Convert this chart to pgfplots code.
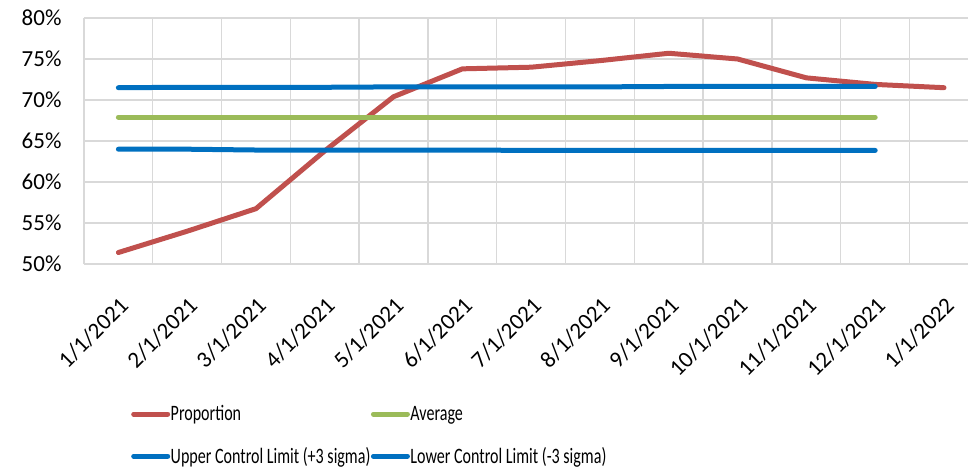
\documentclass[border=0pt]{standalone}
\usepackage{fontspec}
\setmainfont{Carlito}
\usepackage{graphicx}
\usepackage{pgfplots}
\pgfplotsset{compat=1.18}
\definecolor{cred}{HTML}{C0504D}
\definecolor{cgreen}{HTML}{9BBB59}
\definecolor{cblue}{HTML}{0070C0}
\definecolor{cgrid}{HTML}{D9D9D9}
\begin{document}
\begin{tikzpicture}
\begin{axis}[
 at={(0,0)}, anchor=south west,
 scale only axis, width=884bp, height=246bp,
 xmin=-0.5, xmax=12.349, ymin=50, ymax=80,
 axis line style={draw=none},
 xtick={0,...,12},
 xticklabels={1/1/2021,2/1/2021,3/1/2021,4/1/2021,5/1/2021,6/1/2021,7/1/2021,8/1/2021,9/1/2021,10/1/2021,11/1/2021,12/1/2021,1/1/2022},
 minor xtick={-0.5,0.5,...,11.5},
 xminorgrids, ymajorgrids,
 ytick={50,55,...,80},
 yticklabel={\pgfmathprintnumber{\tick}\%},
 /pgf/number format/assume math mode=true,
 grid style={cgrid, line width=1.4bp},
 minor grid style={cgrid, line width=1.4bp},
 major tick length=0pt, minor tick length=0pt,
 xticklabel style={rotate=45, anchor=east, font=\fontsize{23bp}{27bp}\selectfont, yshift=-31bp, xshift=-19bp},
 yticklabel style={font=\fontsize{23bp}{27bp}\selectfont, xshift=-19bp},
 legend columns=2,
 legend cell align=left,
 legend image code/.code={\draw[#1, line cap=round] (0bp,0bp) -- (34bp,0bp);},
 legend style={at={(axis description cs:0,0)}, anchor=north west, xshift=47bp, yshift=-141bp,
   draw=none, fill=none, inner sep=0pt, row sep=24bp, column sep=0pt,
   font=\fontsize{22bp}{26bp}\selectfont, nodes={inner sep=0.5bp}},
]
\addplot[cred, line width=5bp, line join=round, line cap=round] coordinates {
 (0,51.4) (1,54.0) (2,56.75) (3,63.8) (4,70.4) (5,73.8) (6,74.0) (7,74.8) (8,75.7) (9,75.0) (10,72.7) (11,71.9) (12,71.5)};
\addlegendentry{\scalebox{0.73}[1]{Proportion}}
\addplot[cgreen, line width=5bp, line join=round, line cap=round] coordinates {
 (0,67.9) (1,67.9) (2,67.9) (3,67.9) (4,67.9) (5,67.9) (6,67.9) (7,67.9) (8,67.9) (9,67.9) (10,67.9) (11,67.9)};
\addlegendentry{\scalebox{0.73}[1]{Average}}
\addplot[cblue, line width=5bp, line join=round, line cap=round] coordinates {
 (0,71.5) (1,71.55) (2,71.55) (3,71.55) (4,71.6) (5,71.6) (6,71.6) (7,71.6) (8,71.65) (9,71.65) (10,71.65) (11,71.65)};
\addlegendentry{\scalebox{0.73}[1]{Upper Control Limit (+3 sigma)}}
\addplot[cblue, line width=5bp, line join=round, line cap=round] coordinates {
 (0,64.0) (1,64.0) (2,63.9) (3,63.9) (4,63.9) (5,63.9) (6,63.85) (7,63.85) (8,63.85) (9,63.85) (10,63.85) (11,63.85)};
\addlegendentry{\scalebox{0.73}[1]{Lower Control Limit (-3 sigma)}}
\end{axis}
\pgfresetboundingbox
\path[use as bounding box] (-84bp,-205bp) rectangle (884bp,264bp);
\end{tikzpicture}
\end{document}
